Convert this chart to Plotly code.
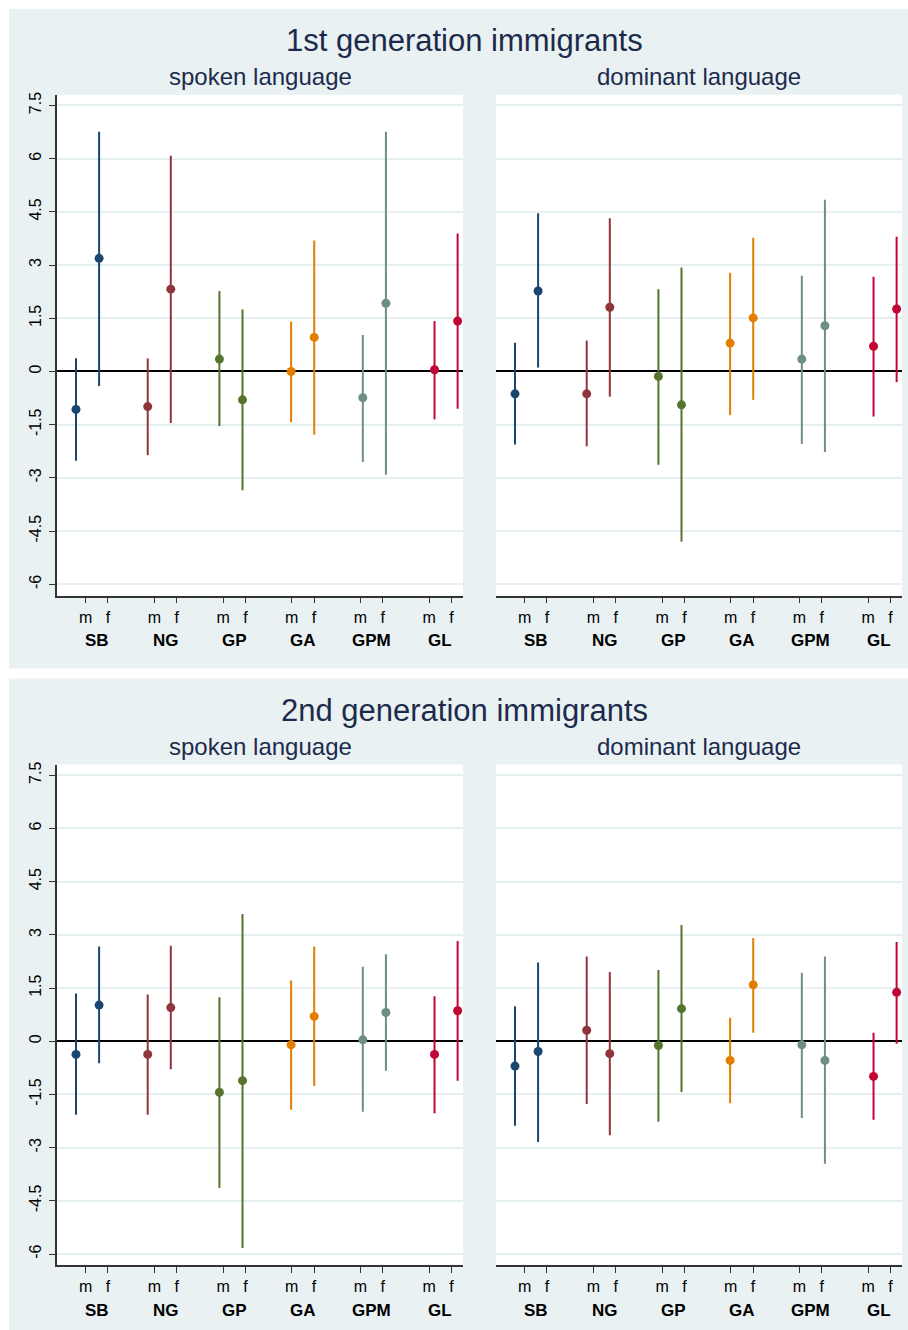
import plotly.graph_objects as go

# ---------------- data ----------------
groups = ["SB", "NG", "GP", "GA", "GPM", "GL"]
sexes = ["m", "f"]
colors = ["#1a476f", "#90353b", "#55752f", "#e37e00", "#6e8e84", "#c10534"]
ytick_vals = [-6, -4.5, -3, -1.5, 0, 1.5, 3, 4.5, 6, 7.5]
ytick_text = ["-6", "-4.5", "-3", "-1.5", "0", "1.5", "3", "4.5", "6", "7.5"]

panel_titles = ["1st generation immigrants", "2nd generation immigrants"]
sub_titles = ["spoken language", "dominant language"]

# values ordered SB m, SB f, NG m, NG f, GP m, GP f, GA m, GA f, GPM m, GPM f, GL m, GL f
gen1_spoken_est = [-1.07, 3.19, -0.99, 2.32, 0.35, -0.80, 0.00, 0.96, -0.74, 1.92, 0.05, 1.42]
gen1_spoken_lo = [-2.52, -0.41, -2.36, -1.45, -1.54, -3.35, -1.43, -1.78, -2.55, -2.91, -1.35, -1.05]
gen1_spoken_hi = [0.37, 6.76, 0.37, 6.08, 2.27, 1.75, 1.41, 3.69, 1.03, 6.76, 1.42, 3.89]

gen1_dominant_est = [-0.63, 2.27, -0.63, 1.81, -0.14, -0.94, 0.80, 1.51, 0.35, 1.29, 0.71, 1.76]
gen1_dominant_lo = [-2.06, 0.11, -2.11, -0.71, -2.63, -4.80, -1.23, -0.80, -2.04, -2.27, -1.27, -0.30]
gen1_dominant_hi = [0.81, 4.46, 0.87, 4.32, 2.32, 2.93, 2.78, 3.77, 2.70, 4.84, 2.67, 3.80]

gen2_spoken_est = [-0.37, 1.02, -0.37, 0.95, -1.44, -1.11, -0.10, 0.70, 0.04, 0.81, -0.37, 0.86]
gen2_spoken_lo = [-2.07, -0.62, -2.07, -0.79, -4.14, -5.83, -1.93, -1.26, -1.99, -0.83, -2.03, -1.11]
gen2_spoken_hi = [1.35, 2.67, 1.32, 2.69, 1.24, 3.59, 1.71, 2.67, 2.10, 2.45, 1.27, 2.83]

gen2_dominant_est = [-0.70, -0.29, 0.31, -0.35, -0.12, 0.92, -0.54, 1.59, -0.10, -0.54, -0.99, 1.38]
gen2_dominant_lo = [-2.38, -2.84, -1.77, -2.65, -2.27, -1.43, -1.75, 0.24, -2.16, -3.45, -2.21, -0.07]
gen2_dominant_hi = [0.99, 2.22, 2.39, 1.95, 2.01, 3.28, 0.66, 2.91, 1.93, 2.39, 0.24, 2.80]

# ---------------- layout constants ----------------
W, H = 908, 1330
F_OFF = 0.322          # offset of the "f" estimate from the "m" estimate (group units)
TICK0, TICKSTEP, TICKF = 0.135, 0.958, 0.311   # Stata-style label tick positions
XRANGE = [-0.265, 5.397]
YRANGE = [-6.32, 7.8]
PANEL_SHIFT = 671.3

BG = "#eaf1f3"
GRID = "#e6eff2"
TITLE_C = "#1c2b4b"
FONT = "Liberation Sans, Arial, sans-serif"


def py(px):
    return 1 - px / H


x_dom = [[57 / W, 463 / W], [496 / W, 902 / W]]
y_dom_px = [(92, 594), (92 + PANEL_SHIFT, 594 + PANEL_SHIFT)]

fig = go.Figure()

panels = [
    (0, 0, gen1_spoken_est, gen1_spoken_lo, gen1_spoken_hi),
    (0, 1, gen1_dominant_est, gen1_dominant_lo, gen1_dominant_hi),
    (1, 0, gen2_spoken_est, gen2_spoken_lo, gen2_spoken_hi),
    (1, 1, gen2_dominant_est, gen2_dominant_lo, gen2_dominant_hi),
]

tickvals = []
ticktext = []
for gi in range(len(groups)):
    tickvals += [TICK0 + gi * TICKSTEP, TICK0 + gi * TICKSTEP + TICKF]
    ticktext += sexes

# background panels (grey) and white plot regions
shapes = [
    dict(type="rect", xref="paper", yref="paper", x0=9 / W, x1=1, y0=py(667), y1=py(6),
         fillcolor=BG, line=dict(width=0), layer="below"),
    dict(type="rect", xref="paper", yref="paper", x0=9 / W, x1=1, y0=0, y1=py(677),
         fillcolor=BG, line=dict(width=0), layer="below"),
]

annotations = []
for k, (row, col, est, lo, hi) in enumerate(panels):
    n = k + 1
    xa = "x" if n == 1 else f"x{n}"
    ya = "y" if n == 1 else f"y{n}"
    for gi, g in enumerate(groups):
        e = est[2 * gi:2 * gi + 2]
        l = lo[2 * gi:2 * gi + 2]
        h = hi[2 * gi:2 * gi + 2]
        xs = [gi, gi + F_OFF]
        fig.add_trace(go.Scatter(
            x=xs, y=e, mode="markers", xaxis=xa, yaxis=ya,
            marker=dict(size=9, color=colors[gi]),
            error_y=dict(type="data", symmetric=False,
                         array=[h[i] - e[i] for i in range(2)],
                         arrayminus=[e[i] - l[i] for i in range(2)],
                         width=0, thickness=2, color=colors[gi]),
            showlegend=False, hoverinfo="skip"))
        # group label
        annotations.append(dict(
            xref=xa, yref="paper",
            x=TICK0 + gi * TICKSTEP + TICKF / 2,
            y=py(639 + row * PANEL_SHIFT),
            text=f"<b>{g}</b>", showarrow=False,
            xanchor="center", yanchor="middle",
            font=dict(family=FONT, size=17, color="black")))

    top, bot = y_dom_px[row]
    shapes.append(dict(type="rect", xref="paper", yref="paper",
                       x0=x_dom[col][0], x1=x_dom[col][1], y0=py(bot), y1=py(top),
                       fillcolor="white", line=dict(width=0), layer="below"))
    xkey = "xaxis" if n == 1 else f"xaxis{n}"
    ykey = "yaxis" if n == 1 else f"yaxis{n}"
    fig.layout[xkey] = dict(
        domain=x_dom[col], anchor=ya, range=XRANGE,
        tickmode="array", tickvals=tickvals, ticktext=ticktext,
        ticks="outside", ticklen=6, tickwidth=1.3, tickcolor="#333333",
        showline=True, linecolor="#333333", linewidth=1.5,
        showgrid=False, zeroline=False,
        tickfont=dict(family=FONT, size=16, color="black"),
        fixedrange=True)
    fig.layout[ykey] = dict(
        domain=[py(bot), py(top)], anchor=xa, range=YRANGE,
        tickmode="array", tickvals=ytick_vals, ticktext=ytick_text,
        tickangle=-90,
        ticks="outside" if col == 0 else "", ticklen=6, tickwidth=1.3,
        tickcolor="#333333",
        showticklabels=(col == 0),
        showline=(col == 0), linecolor="#333333", linewidth=1.5,
        showgrid=True, gridcolor=GRID, gridwidth=2,
        zeroline=True, zerolinecolor="black", zerolinewidth=2,
        tickfont=dict(family=FONT, size=16, color="black"),
        ticklabelstandoff=2,
        fixedrange=True)

# titles
for row in range(2):
    annotations.append(dict(
        xref="paper", yref="paper", x=464 / W, y=py(38 + row * PANEL_SHIFT),
        text=panel_titles[row], showarrow=False, xanchor="center", yanchor="middle",
        font=dict(family=FONT, size=31, color=TITLE_C)))
    for col in range(2):
        cx = (x_dom[col][0] + x_dom[col][1]) / 2
        annotations.append(dict(
            xref="paper", yref="paper", x=cx, y=py(74 + row * PANEL_SHIFT),
            text=sub_titles[col], showarrow=False, xanchor="center", yanchor="middle",
            font=dict(family=FONT, size=24, color=TITLE_C)))

fig.update_layout(
    width=W, height=H, margin=dict(l=0, r=0, t=0, b=0),
    paper_bgcolor="white", plot_bgcolor="white",
    annotations=annotations, shapes=shapes,
    font=dict(family=FONT),
)

fig.write_html("out.html", config={"displayModeBar": False},
               post_script="document.body.style.margin='0';document.body.style.overflow='hidden';")
